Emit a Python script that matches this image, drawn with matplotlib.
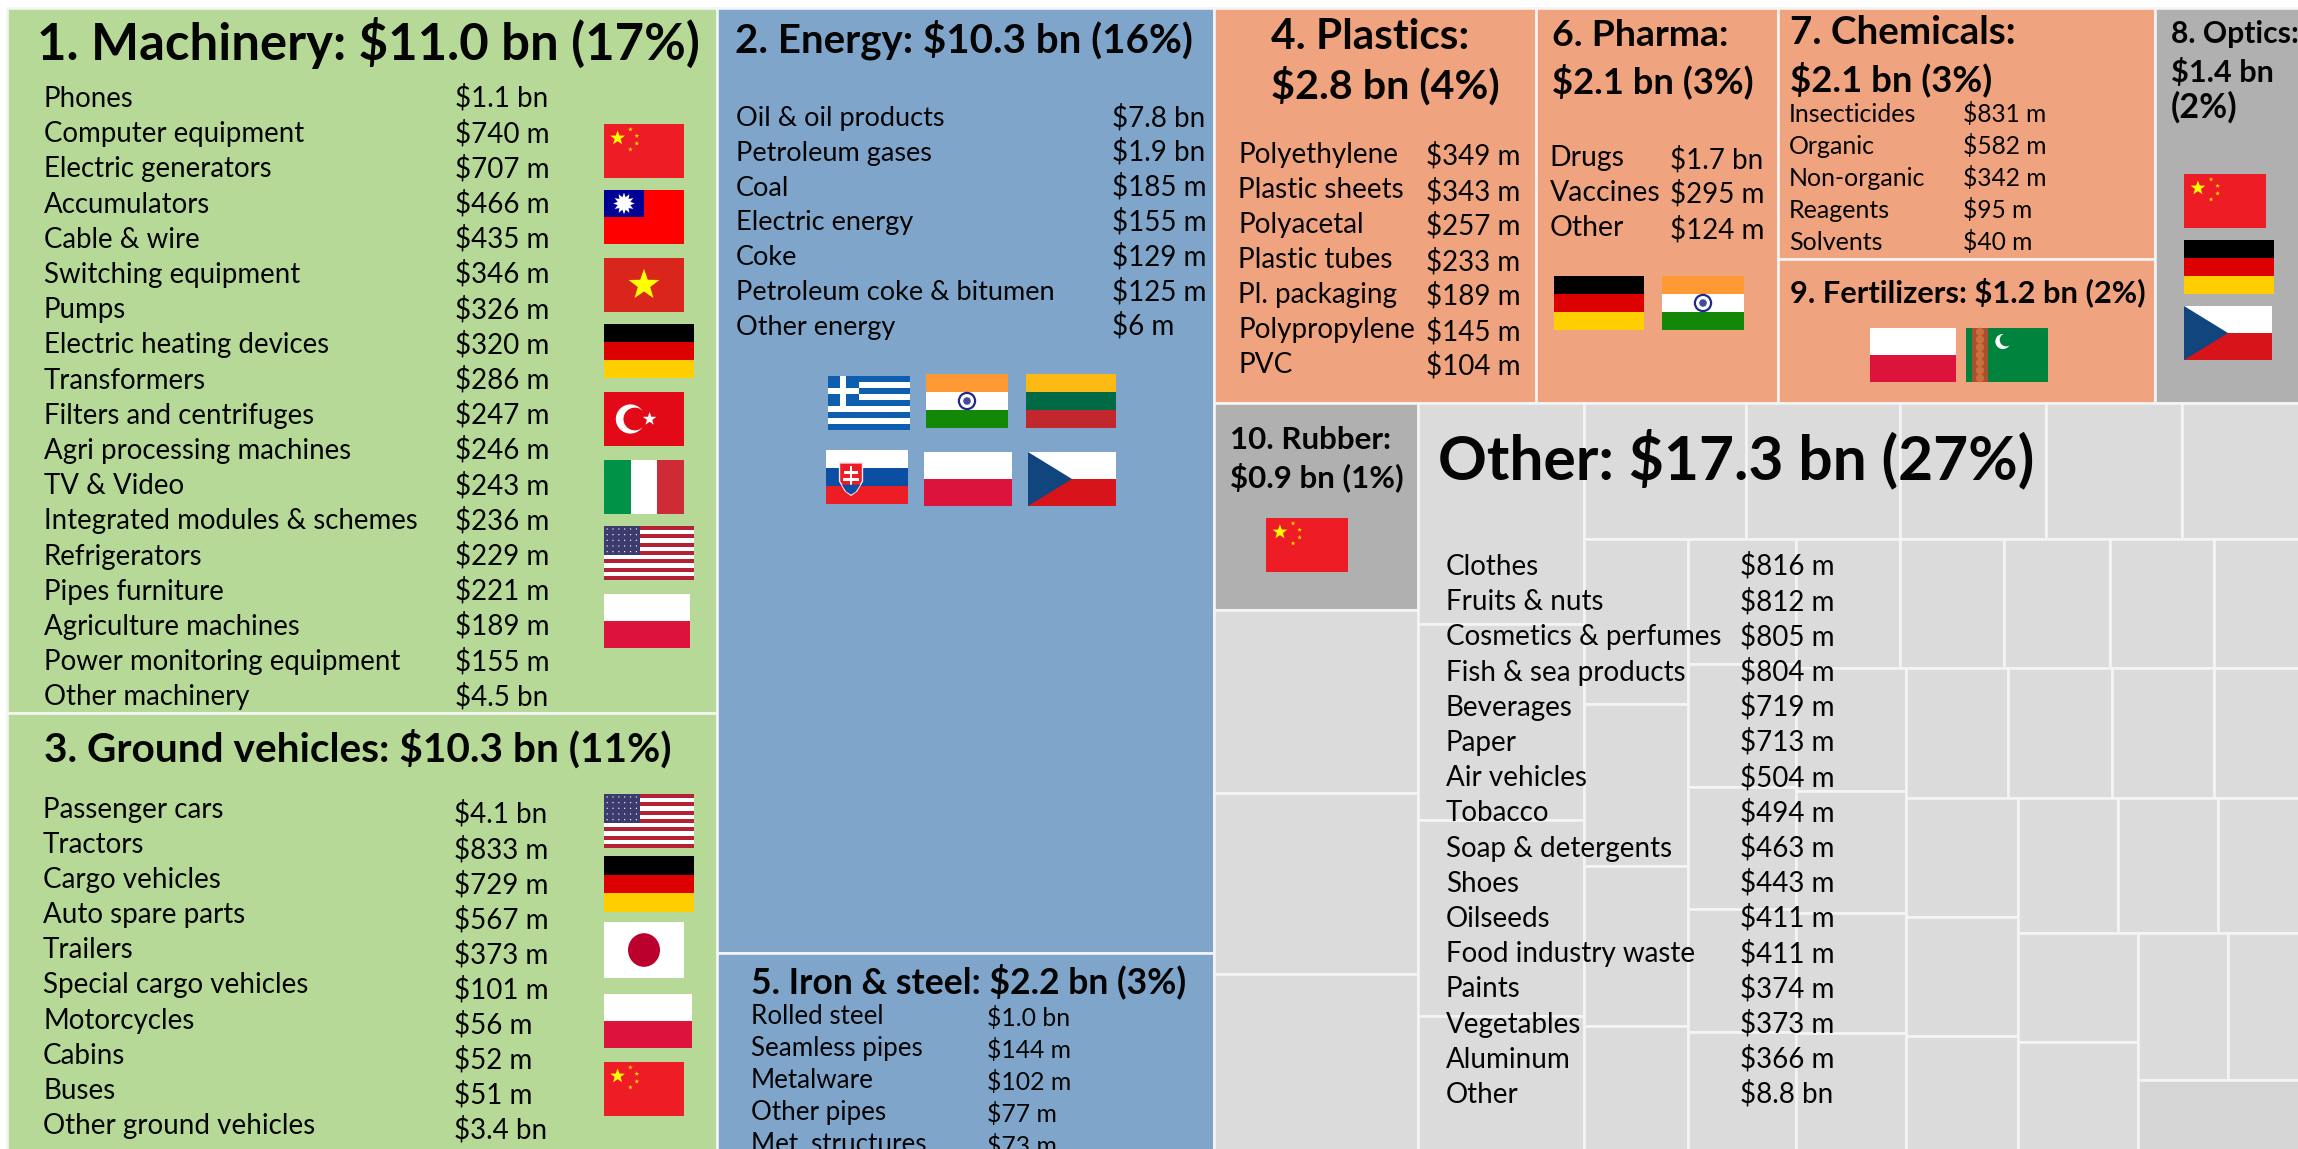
import math
import matplotlib
matplotlib.use("Agg")
import matplotlib.pyplot as plt
from matplotlib.font_manager import FontProperties
from matplotlib.patches import Rectangle, Polygon, Ellipse
from matplotlib.textpath import TextPath

# ---------- data: visible tile sizes ($m, cropped tiles count visible part) ----------
GREEN, BLUE, ORANGE, DARK, LIGHT, LOW = "#B7D997", "#7FA5CB", "#EFA37E", "#B0B0B0", "#DBDBDB", "#D6D6D6"
sector_col1 = [11108, 6895]
sector_col2 = [10405, 2171]
sector_top = [2826, 2124, 1264]
sector_chem_fert = [2103, 1206]
other_col_a = [938, 825, 821, 798]
other_col_b = [813, 721, 723, 494]
other_row_1 = [490, 465, 441, 411, 354]
other_col_c = [381, 372, 370, 287]
other_col_d = [299, 294, 293, 295, 283]
other_row_2 = [297, 297, 303, 297, 243]
other_col_e = [301, 297, 293, 286]
other_row_3 = [294, 300, 294, 245]
other_col_f = [295, 296, 284]
other_row_4 = [299, 299, 242]
other_col_g = [291, 288]
other_row_5 = [294, 232]
other_last = [250]

machinery_items = ["Phones", "Computer equipment", "Electric generators", "Accumulators", "Cable & wire",
                   "Switching equipment", "Pumps", "Electric heating devices", "Transformers",
                   "Filters and centrifuges", "Agri processing machines", "TV & Video",
                   "Integrated modules & schemes", "Refrigerators", "Pipes furniture", "Agriculture machines",
                   "Power monitoring equipment", "Other machinery"]
machinery_values = ["$1.1 bn", "$740 m", "$707 m", "$466 m", "$435 m", "$346 m", "$326 m", "$320 m", "$286 m",
                    "$247 m", "$246 m", "$243 m", "$236 m", "$229 m", "$221 m", "$189 m", "$155 m", "$4.5 bn"]
vehicle_items = ["Passenger cars", "Tractors", "Cargo vehicles", "Auto spare parts", "Trailers",
                 "Special cargo vehicles", "Motorcycles", "Cabins", "Buses", "Other ground vehicles"]
vehicle_values = ["$4.1 bn", "$833 m", "$729 m", "$567 m", "$373 m", "$101 m", "$56 m", "$52 m", "$51 m", "$3.4 bn"]
energy_items = ["Oil & oil products", "Petroleum gases", "Coal", "Electric energy", "Coke",
                "Petroleum coke & bitumen", "Other energy"]
energy_values = ["$7.8 bn", "$1.9 bn", "$185 m", "$155 m", "$129 m", "$125 m", "$6 m"]
iron_items = ["Rolled steel", "Seamless pipes", "Metalware", "Other pipes", "Met. structures"]
iron_values = ["$1.0 bn", "$144 m", "$102 m", "$77 m", "$73 m"]
plastic_items = ["Polyethylene", "Plastic sheets", "Polyacetal", "Plastic tubes", "Pl. packaging",
                 "Polypropylene", "PVC"]
plastic_values = ["$349 m", "$343 m", "$257 m", "$233 m", "$189 m", "$145 m", "$104 m"]
pharma_items = ["Drugs", "Vaccines", "Other"]
pharma_values = ["$1.7 bn", "$295 m", "$124 m"]
chem_items = ["Insecticides", "Organic", "Non-organic", "Reagents", "Solvents"]
chem_values = ["$831 m", "$582 m", "$342 m", "$95 m", "$40 m"]
other_items = ["Clothes", "Fruits & nuts", "Cosmetics & perfumes", "Fish & sea products", "Beverages", "Paper",
               "Air vehicles", "Tobacco", "Soap & detergents", "Shoes", "Oilseeds", "Food industry waste",
               "Paints", "Vegetables", "Aluminum", "Other"]
other_values = ["$816 m", "$812 m", "$805 m", "$804 m", "$719 m", "$713 m", "$504 m", "$494 m", "$463 m", "$443 m",
                "$411 m", "$411 m", "$374 m", "$373 m", "$366 m", "$8.8 bn"]

# ---------- canvas ----------
W, H, DPI = 2298, 1149, 100
fig = plt.figure(figsize=(W / DPI, H / DPI), dpi=DPI, facecolor="white")
ax = fig.add_axes([0, 0, 1, 1])
ax.set_xlim(0, W)
ax.set_ylim(H, 0)
ax.axis("off")

WIDE = "Lato"


def size_for(sample, width, family, weight="normal"):
    prop = FontProperties(family=family, weight=weight)
    ext = TextPath((0, 0), sample, size=100, prop=prop).get_extents()
    return 100 * width / ext.width * 72 / DPI


def put(x, y, s, size, family=WIDE, weight="normal"):
    ax.text(x, y, s, fontsize=size, family=family, weight=weight, color="#050505", ha="left", va="baseline", zorder=5)


def title(x, y, s, width, family=WIDE):
    put(x, y, s, size_for(s, width, family, "bold"), family, "bold")


def rows(items, values, xl, xv, y0, step, sample, width, vsample, vwidth, family=WIDE, dv=0):
    sl = size_for(sample, width, family)
    sv = size_for(vsample, vwidth, family)
    for i, (a, b) in enumerate(zip(items, values)):
        put(xl, y0 + step * i, a, sl, family)
        put(xv, y0 + step * i + dv, b, sv, family)


# ---------- treemap ----------
def paint(vals, color):
    return [(v, color) for v in vals]


tree = [
    paint(sector_col1, GREEN),
    paint(sector_col2, BLUE),
    [
        [paint(sector_top[:2], ORANGE)[0], paint(sector_top[:2], ORANGE)[1], paint(sector_chem_fert, ORANGE),
         (sector_top[2], DARK)],
        [
            [(other_col_a[0], DARK)] + paint(other_col_a[1:], LIGHT),
            paint(other_col_b, LIGHT),
            [
                paint(other_row_1, LIGHT),
                [
                    paint(other_col_c, LIGHT),
                    paint(other_col_d, LIGHT),
                    [
                        paint(other_row_2, LIGHT),
                        [
                            paint(other_col_e, LIGHT),
                            [
                                paint(other_row_3, LIGHT),
                                [
                                    paint(other_col_f, LIGHT),
                                    [
                                        paint(other_row_4, LIGHT),
                                        [
                                            paint(other_col_g, LIGHT),
                                            [paint(other_row_5, LIGHT), (other_last[0], LOW)],
                                        ],
                                    ],
                                ],
                            ],
                        ],
                    ],
                ],
            ],
        ],
    ],
]


def total(n):
    return n[0] if isinstance(n, tuple) else sum(total(c) for c in n)


def layout(n, x0, y0, x1, y1, horizontal):
    if isinstance(n, tuple):
        ax.add_patch(Rectangle((x0, y0), x1 - x0, y1 - y0, facecolor=n[1], edgecolor="#F4F4F4", lw=1.9, zorder=1))
        return
    t = total(n)
    pos = x0 if horizontal else y0
    for c in n:
        span = total(c) / t * ((x1 - x0) if horizontal else (y1 - y0))
        if horizontal:
            layout(c, pos, y0, pos + span, y1, False)
        else:
            layout(c, x0, pos, x1, pos + span, True)
        pos += span


layout(tree, 7, 8, W + 1, H + 1, True)


# ---------- flags ----------
def box(x0, y0, x1, y1, c, z=2):
    ax.add_patch(Rectangle((x0, y0), x1 - x0, y1 - y0, facecolor=c, edgecolor="none", zorder=z))


def hbands(x0, y0, x1, y1, colors):
    for i, c in enumerate(colors):
        box(x0, y0 + (y1 - y0) * i / len(colors), x1, y0 + (y1 - y0) * (i + 1) / len(colors), c)


def star(cx, cy, r, c, z=3, n=5, inner=0.4):
    pts = []
    for i in range(2 * n):
        a = -math.pi / 2 + i * math.pi / n
        rr = r if i % 2 == 0 else r * inner
        pts.append((cx + rr * math.cos(a), cy + rr * math.sin(a)))
    ax.add_patch(Polygon(pts, closed=True, facecolor=c, edgecolor="none", zorder=z))


def disc(cx, cy, r, c, z=3, edge="none", lw=0):
    ax.add_patch(Ellipse((cx, cy), 2 * r, 2 * r, facecolor=c, edgecolor=edge, lw=lw, zorder=z))


def flag(kind, x0, y0, x1, y1):
    w, h = x1 - x0, y1 - y0
    if kind == "china":
        box(x0, y0, x1, y1, "#EE1C25")
        star(x0 + .17 * w, y0 + .26 * h, .13 * h * 1.1, "#FFFF00")
        for u, v in [(.33, .1), (.41, .22), (.41, .36), (.33, .47)]:
            star(x0 + u * w, y0 + v * h, .045 * h, "#FFDE00")
    elif kind == "taiwan":
        box(x0, y0, x1, y1, "#FE0000")
        box(x0, y0, x0 + w / 2, y0 + h / 2, "#000095")
        star(x0 + w / 4, y0 + h / 4, .2 * h, "white", n=12, inner=.6)
        disc(x0 + w / 4, y0 + h / 4, .07 * h, "white", 4)
    elif kind == "vietnam":
        box(x0, y0, x1, y1, "#DA251D")
        star(x0 + w / 2, y0 + h / 2, .3 * h, "#FFFF00")
    elif kind == "germany":
        hbands(x0, y0, x1, y1, ["#000000", "#DD0000", "#FFCE00"])
    elif kind == "turkey":
        box(x0, y0, x1, y1, "#E30A17")
        disc(x0 + .33 * w, y0 + .5 * h, .27 * h, "white")
        disc(x0 + .385 * w, y0 + .5 * h, .21 * h, "#E30A17", 4)
        star(x0 + .57 * w, y0 + .5 * h, .13 * h, "white", 5)
    elif kind == "italy":
        box(x0, y0, x0 + w / 3, y1, "#009246")
        box(x0 + w / 3, y0, x0 + 2 * w / 3, y1, "white")
        box(x0 + 2 * w / 3, y0, x1, y1, "#CE2B37")
    elif kind == "usa":
        hbands(x0, y0, x1, y1, ["#B22234", "white"] * 6 + ["#B22234"])
        box(x0, y0, x0 + .4 * w, y0 + h * 7 / 13, "#3C3B6E", 3)
        for r in range(5):
            for q in range(6):
                disc(x0 + (.035 + q * .065) * w, y0 + (.055 + r * .105) * h, .012 * h, "white", 4)
    elif kind == "poland":
        hbands(x0, y0, x1, y1, ["white", "#DC143C"])
    elif kind == "japan":
        box(x0, y0, x1, y1, "white")
        ax.add_patch(Ellipse((x0 + w / 2, y0 + h / 2), .4 * w, .6 * h, facecolor="#BC002D", edgecolor="none", zorder=3))
    elif kind == "greece":
        hbands(x0, y0, x1, y1, ["#0D5EAF", "white"] * 4 + ["#0D5EAF"])
        box(x0, y0, x0 + .375 * w, y0 + 5 * h / 9, "#0D5EAF", 3)
        box(x0 + .15 * w, y0, x0 + .225 * w, y0 + 5 * h / 9, "white", 4)
        box(x0, y0 + 2 * h / 9, x0 + .375 * w, y0 + 3 * h / 9, "white", 4)
    elif kind == "india":
        hbands(x0, y0, x1, y1, ["#FF9933", "white", "#138808"])
        disc(x0 + w / 2, y0 + h / 2, .15 * h, "white", 3, "#1F2A8C", 1.6)
        disc(x0 + w / 2, y0 + h / 2, .07 * h, "#3F4AA0", 4)
    elif kind == "lithuania":
        hbands(x0, y0, x1, y1, ["#FDB913", "#006A44", "#C1272D"])
    elif kind == "slovakia":
        hbands(x0, y0, x1, y1, ["white", "#0B4EA2", "#EE1C25"])
        cx, cy = x0 + .305 * w, y0 + .5 * h
        sw, sh = .14 * w, .26 * h
        pts = [(cx - sw, cy - sh), (cx + sw, cy - sh), (cx + sw, cy + .3 * sh), (cx + .5 * sw, cy + sh),
               (cx, cy + 1.3 * sh), (cx - .5 * sw, cy + sh), (cx - sw, cy + .3 * sh)]
        ax.add_patch(Polygon(pts, closed=True, facecolor="#EE1C25", edgecolor="#E8E8F0", lw=1, zorder=3))
        box(cx - .012 * w, cy - .8 * sh, cx + .012 * w, cy + .6 * sh, "white", 4)
        box(cx - .08 * w, cy - .4 * sh, cx + .08 * w, cy - .2 * sh, "white", 4)
        box(cx - .1 * w, cy + .05 * sh, cx + .1 * w, cy + .25 * sh, "white", 4)
        ax.add_patch(Polygon([(cx - sw * .8, cy + .55 * sh), (cx + sw * .8, cy + .55 * sh), (cx + .4 * sw, cy + 1.05 * sh),
                              (cx, cy + 1.25 * sh), (cx - .4 * sw, cy + 1.05 * sh)], closed=True,
                             facecolor="#0B4EA2", edgecolor="none", zorder=4))
    elif kind == "czech":
        hbands(x0, y0, x1, y1, ["white", "#D7141A"])
        ax.add_patch(Polygon([(x0, y0), (x0 + .5 * w, y0 + .5 * h), (x0, y1)], closed=True,
                             facecolor="#11457E", edgecolor="none", zorder=3))
    elif kind == "turkmen":
        box(x0, y0, x1, y1, "#00843D")
        box(x0 + .07 * w, y0, x0 + .27 * w, y1, "#A8502F", 3)
        for i in range(7):
            disc(x0 + .17 * w, y0 + (i + .5) / 7 * h, .05 * w, "#C9703C", 4)
        disc(x0 + .45 * w, y0 + .25 * h, .14 * h, "white")
        disc(x0 + .49 * w, y0 + .22 * h, .12 * h, "#00843D", 4)


machinery_flags = [("china", 604, 124, 684, 178), ("taiwan", 604, 190, 684, 244), ("vietnam", 604, 258, 684, 312),
                   ("germany", 604, 324, 694, 378), ("turkey", 604, 392, 684, 446), ("italy", 604, 460, 684, 514),
                   ("usa", 604, 526, 694, 580), ("poland", 604, 594, 690, 648)]
vehicle_flags = [("usa", 604, 794, 694, 848), ("germany", 604, 856, 694, 912), ("japan", 604, 922, 684, 978),
                 ("poland", 604, 994, 692, 1048), ("china", 604, 1062, 684, 1116)]
energy_flags = [("greece", 828, 376, 910, 430), ("india", 926, 374, 1008, 428), ("lithuania", 1026, 374, 1116, 428),
                ("slovakia", 826, 450, 908, 504), ("poland", 924, 452, 1012, 506), ("czech", 1028, 452, 1116, 506)]
other_flags = [("germany", 1554, 276, 1644, 330), ("india", 1662, 276, 1744, 330), ("poland", 1870, 328, 1956, 382),
               ("turkmen", 1966, 328, 2048, 382), ("china", 2184, 174, 2266, 228), ("germany", 2184, 240, 2274, 294),
               ("czech", 2184, 306, 2272, 360), ("china", 1266, 518, 1348, 572)]
for f in machinery_flags + vehicle_flags + energy_flags + other_flags:
    flag(*f)

# ---------- text ----------
title(37, 60, "1. Machinery: $11.0 bn (17%)", 657)
rows(machinery_items, machinery_values, 44, 455, 107, 35.2, "Integrated modules & schemes", 370, "$1.1 bn", 90)

title(44, 762, "3. Ground vehicles: $10.3 bn (11%)", 626)
rows(vehicle_items, vehicle_values, 43, 453.5, 818, 35.1, "Special cargo vehicles", 263, "$4.1 bn", 90, dv=5)

title(735, 52, "2. Energy: $10.3 bn (16%)", 455)
rows(energy_items, energy_values, 736, 1112.5, 126, 34.8, "Petroleum coke & bitumen", 315, "$7.8 bn", 90)

title(751, 993, "5. Iron & steel: $2.2 bn (3%)", 434)
rows(iron_items, iron_values, 751, 987, 1024, 32, "Seamless pipes", 170, "$1.0 bn", 80, dv=2)

title(1271, 49, "4. Plastics:", 196)
title(1271, 99, "$2.8 bn (4%)", 226)
rows(plastic_items, plastic_values, 1238.5, 1426, 163, 35, "Polypropylene", 173, "$349 m", 91, dv=2)

title(1552, 46, "6. Pharma:", 173)
title(1552, 93, "$2.1 bn (3%)", 199)
rows(pharma_items, pharma_values, 1549.5, 1670, 166, 35, "Vaccines", 109, "$1.7 bn", 90, dv=2)

title(1790, 44, "7. Chemicals:", 222)
title(1790, 91, "$2.1 bn (3%)", 200)
rows(chem_items, chem_values, 1789, 1963, 122, 32, "Non-organic", 134, "$831 m", 80.5)

title(1790, 302, "9. Fertilizers: $1.2 bn (2%)", 353)

title(2171, 43, "8. Optics:", 125)
title(2171, 82, "$1.4 bn", 100)
title(2171, 118, "(2%)", 64)

title(1230, 449, "10. Rubber:", 158)
title(1230, 487, "$0.9 bn (1%)", 171)

title(1438, 479, "Other: $17.3 bn (27%)", 592)
rows(other_items, other_values, 1446, 1740, 575, 35.2, "Cosmetics & perfumes", 272, "$816 m", 91)

fig.savefig("out.png", dpi=DPI)
